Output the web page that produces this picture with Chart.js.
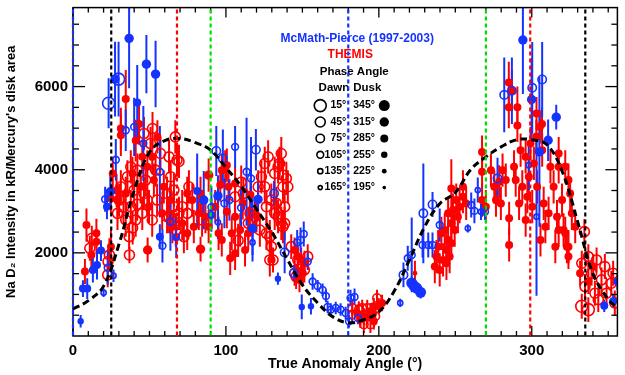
<!DOCTYPE html>
<html>
<head>
<meta charset="utf-8">
<script src="https://cdn.jsdelivr.net/npm/chart.js@4/dist/chart.umd.min.js"></script>
<style>
  html, body { margin: 0; padding: 0; background: #fff; }
</style>
</head>
<body>
<canvas id="chart" width="625" height="375"></canvas>
<script>
const modelAngle = [0,10,20,30,40,50,60,70,80,90,100,110,120,130,140,150,160,170,180,190,200,210,220,230,240,250,260,270,280,290,300,310,320,330,340,350,356];
const modelIntensity = [650,850,1200,2200,3500,4420,4700,4750,4650,4470,4050,3600,3050,2500,1850,1230,795,460,320,390,580,1075,1830,2630,3190,3450,4000,4310,4550,4720,4720,4600,3950,2750,1500,880,680];

// reference angles (vertical dashed lines)
const blueMarks = [0, 180];
const blackMarks = [25, 335];
const redMarks = [68, 299];
const greenMarks = [90, 270];

// phase angle bins for the legend
const dawnPhases = [15, 45, 75, 105, 135, 165];
const duskPhases = [345, 315, 285, 255, 225, 195];

// [true anomaly, intensity kR, error, phase angle]
const mcmathDusk = [
  [5,355,150,255],[6.5,1140,200,285],[9.3,1140,250,285],[13,1590,300,285],[15.7,1710,350,285],
  [18.3,2055,250,285],[22.2,3110,300,285],[24.4,3470,400,315],[27.5,6180,900,315],[36.7,7160,1200,315],
  [48,6540,700,315],[54,6300,800,315],[42,5620,900,285],[56.8,2390,300,285],[67.5,2375,500,285],
  [81.2,3490,900,285],[85.5,3270,700,315],[94.8,3370,500,315],[90.5,2910,400,285],[121,3285,500,315],
  [117.4,2590,800,315],[134,1380,150,255],[149.6,700,300,255],[155.6,715,200,255],
  [221.5,1275,150,345],[223,1200,150,345],[224.7,1155,150,345],[227.3,1050,150,345],
  [294.2,7120,1300,315],[299.9,5690,1000,315],[316,5265,300,315],[310.7,4710,500,315],[305,4430,1800,315],
  [347.4,730,150,285],[353.2,835,150,285],[356,1310,200,285]
];
const mcmathDawn = [
  [20,1040,100,135],[22.7,1640,400,105],[26.5,1450,150,135],[21,3290,300,105],[28,4240,500,105],
  [23.3,5600,600,15],[29.8,6180,900,15],[34.5,4950,500,105],[40,5030,700,105],[46,4630,900,105],
  [56.8,3950,1100,105],[58.5,2170,400,105],[63.7,2750,700,105],[93.7,4450,600,75],[98,4270,700,75],
  [106,4550,500,105],[119.6,4480,500,75],[113.5,3950,1300,105],[116.4,3790,1000,105],[99,3190,600,105],
  [102.3,3270,500,105],[90.5,3100,500,105],[94.8,2735,400,135],[109.9,3085,500,105],[117.4,2250,300,135],
  [131.5,3430,300,75],[138.4,2010,500,75],[144.4,1510,200,75],[146.6,2250,300,105],[148.8,2310,300,105],
  [150.9,2455,300,105],[153.5,1790,200,105],[156.7,1310,200,105],[160,1200,150,105],[163.2,1110,150,105],
  [165.4,960,150,105],[166.5,700,150,105],[168.6,635,150,105],[171.8,675,150,105],[175,635,150,105],
  [178.3,555,150,105],[180.5,355,150,105],[181.5,915,200,105],[184.1,940,200,105],[186.3,435,150,105],
  [214,795,100,135],[216.1,1470,300,75],[218.9,1870,300,105],[221.5,1950,900,105],[228.6,2190,300,105],
  [232.3,2190,300,105],[235.1,2190,300,105],[229.1,2950,1200,75],[235.1,3165,300,75],[239.8,2670,400,105],
  [258.2,2590,100,135],[260.4,3150,300,105],[262.5,3010,300,105],[264.7,3510,300,135],[266.8,2990,200,135],
  [269.4,2990,200,105],[277.6,3790,500,75],[282,5800,900,75],[287,5900,800,75],[300.3,5970,1100,75],
  [306.8,6170,900,75],[298,4110,600,135],[303.1,2870,1900,135]
];
const themisDusk = [
  [7.8,1550,300,285],[8.8,2670,400,285],[15.3,2470,350,285],[15.3,2270,300,285],[12,1950,300,285],
  [24.8,2150,400,285],[26,3910,400,285],[24.8,3310,350,285],[28.5,3500,400,285],
  [34.5,5700,700,285],[31.3,4990,500,285],[31.3,4830,500,285],[43.2,5100,500,285],[41,4700,500,285],
  [45.3,4310,400,285],[48.6,4070,400,285],[51.8,4310,400,285],[38.9,3910,400,285],[52.9,3750,400,285],
  [44.2,3590,400,285],[34.5,3430,400,285],[29.1,3270,400,285],[59.4,3590,400,285],[63.7,3270,400,285],
  [58.3,2950,400,285],[49.7,3110,400,285],[48.8,2070,300,315],[55.2,4790,400,285],[65,2630,400,285],
  [71.4,2710,400,285],[74.7,3430,400,285],[83.4,2090,300,315],[88.7,3870,400,315],[97.3,3990,400,285],
  [100.6,4110,400,285],[96.3,3630,400,285],[101.7,3590,400,285],[106,3670,400,285],[93,3110,400,285],
  [100.6,2990,400,285],[106,2870,400,285],[95.2,2470,400,285],[103.8,2470,400,285],[109.3,2550,400,285],
  [114.6,2470,400,285],[97.3,2310,400,285],[102.8,1870,400,285],[106,1990,400,285],[112.5,2070,400,285],
  [82.3,2950,400,285],[86.6,2870,400,285],[78,3270,400,285],[83.4,3430,400,285],[79,2630,400,285],
  [74.7,2470,400,285],[88.7,2630,400,285],[99.5,4070,400,285],[111,3200,400,285],[116,3400,400,285],
  [120,2900,400,285],[144.9,2070,300,285],[147,1910,300,285],[149.2,1830,300,285],[150.3,1510,300,285],
  [151.4,1750,300,285],[148.1,1350,300,285],
  [185.9,555,200,285],[192.4,475,200,285],[196.7,715,200,285],[190.2,475,200,285],[194.5,595,200,285],
  [199.9,715,200,285],[196.7,355,200,285],[202.1,795,200,285],[188,395,200,285],
  [223.6,1510,300,225],[247.4,3550,700,285],[255,3590,400,285],[250.6,3270,400,285],[252.8,3110,400,285],
  [248.5,3030,400,285],[255,3350,400,285],[245.3,2950,400,285],[257.1,3190,400,285],[251.7,2870,400,285],
  [247.4,2710,400,285],[249.6,2550,400,285],[243.1,2550,400,285],[245.3,2310,400,285],[240.9,2470,400,285],
  [238.8,2150,400,285],[244.2,2070,400,285],[247.4,2230,400,285],[237.7,1910,400,285],[242,1830,400,285],
  [246.3,1910,400,285],[236.6,1670,400,285],[239.8,1590,400,285],[244.2,1750,400,285],[267.5,4425,400,285],
  [267.5,3950,400,285],[267.5,3270,400,285],[270,3110,400,285],
  [278.7,3710,400,285],[279.8,3190,400,285],[285.2,2830,400,285],[285.2,2190,400,285],[296,2790,400,285],
  [285,6100,500,285],[287,5900,500,285],[285,5500,500,285],[290.6,5500,500,285],[290.6,5065,400,285],
  [288.4,4070,400,285],[289.5,3750,400,285],[293.8,3590,400,285],[296,4310,400,285],[298.1,3830,400,285],
  [301.4,4150,400,285],[303.5,3590,400,285],[307.8,3190,400,285],[311,2950,400,285],[314.3,3590,400,285],
  [317.6,4070,400,285],[319.8,3270,400,285],[321.9,2470,400,285],[324,2150,400,285],[317.6,2550,400,285],
  [315.4,2150,400,285],[308.9,2630,400,285],[305.7,2310,400,285],[326.2,2950,400,285],[300.3,3110,400,285],
  [297.1,3350,400,285],[291.7,3190,400,285],[292.7,4470,400,285],[299.2,4630,400,285],[283,3750,400,285],
  [280.9,3990,400,285],[275.5,3590,400,285],[273.3,3990,400,285],[276.6,3270,400,285],[306.8,4470,400,285],
  [312.2,4070,400,285],[305.3,5030,400,285],[303.1,5350,400,285],[317.6,4390,400,285],[321.9,4070,400,285],
  [324,3750,400,285],[325.1,3430,400,285],[316.5,2870,400,285],[320.8,2550,400,285],[323,2150,400,285],
  [328.4,2630,400,285],[324,1910,300,285],[306.7,5100,400,285],[303,4800,400,285],
  [331.6,1510,300,285],[337,1310,300,285],[340.2,1670,300,285]
];
const themisDawn = [
  [12.3,2350,300,45],[11,2110,300,45],[23.8,1950,400,45],[22.7,1470,300,45],[22.9,1790,300,45],
  [36.9,1950,200,45],[36.7,2390,300,45],[37.8,4070,400,45],[35.6,3830,400,45],[42.1,3990,400,45],
  [47.5,3750,400,45],[54,3990,400,45],[46.4,3430,400,45],[40,3510,400,45],[31.3,3590,400,45],
  [29.1,2950,400,45],[34.5,2790,400,45],[30.2,3270,400,45],[41,2790,400,45],[48.6,3270,400,45],
  [55,3270,400,45],[61.5,3430,400,45],[65.9,3110,400,45],[61.5,2870,400,45],[51.8,2790,400,45],
  [45.3,2950,400,45],[57.2,4390,400,45],[50.7,4630,400,45],[46.4,4870,400,45],[66.9,4790,400,45],
  [68,4230,400,45],[37.8,3110,400,45],[42,3170,400,45],[52,4990,400,45],[69.3,4200,400,45],
  [33,3100,400,45],[39,2600,400,45],[62.8,4310,400,45],[63.9,3830,400,45],[69.3,2950,400,45],
  [62.8,2870,400,45],[67.2,2550,400,45],[74.7,2950,400,45],[75.8,3590,400,45],[72.5,2390,400,45],
  [66,3510,400,45],[71.4,3110,400,45],[84.4,2790,400,45],
  [106,3350,400,45],[111.4,3430,400,45],[121.1,3590,400,45],[123.2,3830,400,45],[127.6,4310,400,45],
  [114.6,2710,400,45],[119,2870,400,45],[125.4,4150,400,45],[125.4,3590,400,45],[126.5,3110,400,45],
  [126.5,2470,400,45],[129.7,2150,400,45],[128.7,1830,400,45],[122.2,2550,400,45],[115.7,2950,400,45],
  [131.9,3910,400,45],[133,3190,400,45],[135.1,4150,400,45],[136.2,4390,400,45],[134.1,4070,400,45],
  [137.3,3870,400,45],[139.5,3790,400,45],[129.7,3270,400,45],[137.3,3590,400,45],[138.4,3110,400,45],
  [134.1,2870,400,45],[130.8,1830,300,45],[128.7,2390,400,45],[137.3,2630,400,45],[138.4,2710,400,45],
  [140.5,3590,400,45],[131.9,2950,400,45],[136.2,2710,400,45],[142.7,2150,300,45],[147,1830,300,45],
  [151.3,1590,300,45],[144.9,1510,300,45],[153.5,1910,300,45],[145.9,1430,300,45],[110,3700,400,45],
  [108,2300,400,45],
  [182.6,675,200,75],[189.1,675,200,75],[197.7,475,200,75],[182.6,515,200,75],[186.9,635,200,75],
  [192.4,675,200,75],[195.6,555,200,75],[198.8,915,200,75],[194.5,275,200,75],[190.2,275,200,75],
  [334.4,2510,300,45],[332.7,1750,300,45],[337,1910,300,45],[342.4,1830,300,45],[347.8,1670,300,45],
  [339.1,1510,300,45],[345.6,1350,300,45],[352,1270,300,45],[334.8,1190,300,45],[341.3,1030,300,45],
  [348.9,1030,300,45],[332.7,715,300,15],[337,635,300,15],[343.5,875,300,45],[354.3,795,300,45],
  [353.2,1510,300,45]
];

const RED = '#ff0000';
const BLUE = '#1433ff';
const GREEN = '#00e000';
const FONT = '"Liberation Sans", Arial, sans-serif';

// symbol size per phase angle bin
const openRadius = {15: 6, 45: 5, 75: 4.2, 105: 3.4, 135: 2.6, 165: 2};
const filledRadius = {345: 5.5, 315: 4.7, 285: 4, 255: 3.2, 225: 2.4, 195: 1.8};

function toPoints(rows) {
  return rows.map(r => ({x: r[0], y: r[1], err: r[2], phase: r[3]}));
}

function obsSet(label, rows, color, filled, order) {
  return {
    label: label,
    data: toPoints(rows),
    order: order,
    errColor: color,
    pointStyle: 'circle',
    pointRadius: c => filled ? filledRadius[c.raw.phase] : openRadius[c.raw.phase],
    pointBackgroundColor: filled ? color : 'rgba(0,0,0,0)',
    pointBorderColor: color,
    pointBorderWidth: filled ? 0 : 1.6
  };
}

const errorBars = {
  id: 'errorBars',
  beforeDatasetsDraw(chart) {
    const {ctx, chartArea: a, scales: {x, y}} = chart;
    ctx.save();
    ctx.beginPath();
    ctx.rect(a.left, a.top, a.right - a.left, a.bottom - a.top);
    ctx.clip();
    ctx.lineWidth = 2;
    // red first, then blue
    chart.data.datasets.slice().sort((p, q) => q.order - p.order).forEach(ds => {
      if (!ds.errColor) return;
      ctx.strokeStyle = ds.errColor;
      ds.data.forEach(p => {
        const px = x.getPixelForValue(p.x);
        ctx.beginPath();
        ctx.moveTo(px, y.getPixelForValue(p.y - p.err));
        ctx.lineTo(px, y.getPixelForValue(p.y + p.err));
        ctx.stroke();
      });
    });
    ctx.restore();
  }
};

const frame = {
  id: 'frame',
  afterDatasetsDraw(chart) {
    const {ctx, chartArea: a, scales: {x, y}} = chart;
    const seg = (x1, y1, x2, y2) => { ctx.beginPath(); ctx.moveTo(x1, y1); ctx.lineTo(x2, y2); ctx.stroke(); };
    ctx.save();
    ctx.strokeStyle = '#000';
    ctx.lineWidth = 1.5;
    ctx.strokeRect(a.left, a.top, a.right - a.left, a.bottom - a.top);
    ctx.lineWidth = 1.3;
    for (let v = 0; v <= x.max; v += 10) {
      const px = x.getPixelForValue(v);
      const len = v % 100 === 0 ? 10 : 5;
      seg(px, a.bottom, px, a.bottom - len);
      seg(px, a.top, px, a.top + len);
    }
    for (let v = 500; v <= y.max; v += 500) {
      const py = y.getPixelForValue(v);
      const len = v % 2000 === 0 ? 12 : 6;
      seg(a.left, py, a.left + len, py);
      seg(a.right, py, a.right - len, py);
    }

    // legend text
    const lx = x.getPixelForValue(180);
    const t = a.top;
    ctx.textBaseline = 'middle';
    ctx.font = 'bold 12px ' + FONT;
    ctx.textAlign = 'center';
    ctx.fillStyle = BLUE;
    ctx.fillText('McMath-Pierce (1997-2003)', lx + 9, t + 31);
    ctx.fillStyle = RED;
    ctx.fillText('THEMIS', lx + 2, t + 47);
    ctx.fillStyle = '#000';
    ctx.font = 'bold 11.5px ' + FONT;
    ctx.fillText('Phase Angle', lx + 6, t + 64);
    ctx.textAlign = 'right';
    ctx.fillText('Dawn', lx + 1, t + 80);
    ctx.textAlign = 'left';
    ctx.fillText('Dusk', lx + 5, t + 80);
    ctx.font = 'bold 10.5px ' + FONT;
    dawnPhases.forEach((ph, i) => {
      const ry = t + 98 + i * 16.4;
      ctx.textAlign = 'right';
      ctx.fillText(ph + '°', lx - 2, ry);
      ctx.textAlign = 'left';
      ctx.fillText(duskPhases[i] + '°', lx + 5, ry);
      ctx.lineWidth = 1.6;
      ctx.beginPath();
      ctx.arc(lx - 28, ry, openRadius[ph], 0, Math.PI * 2);
      ctx.stroke();
      ctx.beginPath();
      ctx.arc(lx + 36, ry, filledRadius[duskPhases[i]], 0, Math.PI * 2);
      ctx.fill();
    });

    // reference angle lines
    ctx.beginPath();
    ctx.rect(a.left - 2, a.top, a.right - a.left + 4, a.bottom - a.top);
    ctx.clip();
    ctx.lineWidth = 2.2;
    ctx.setLineDash([4, 3]);
    [[blueMarks, BLUE], [blackMarks, '#000'], [redMarks, RED], [greenMarks, GREEN]].forEach(([marks, col]) => {
      ctx.strokeStyle = col;
      marks.forEach(m => {
        const px = x.getPixelForValue(m);
        seg(px, a.top + 2, px, a.bottom);
      });
    });
    ctx.restore();
  }
};

new Chart(document.getElementById('chart'), {
  type: 'scatter',
  data: {
    datasets: [
      {
        label: 'model',
        data: modelAngle.map((a, i) => ({x: a, y: modelIntensity[i]})),
        showLine: true,
        tension: 0.4,
        borderColor: '#000',
        borderWidth: 3,
        borderDash: [7, 4],
        pointRadius: 0,
        order: 0
      },
      obsSet('McMath-Pierce dusk', mcmathDusk, BLUE, true, 1),
      obsSet('McMath-Pierce dawn', mcmathDawn, BLUE, false, 2),
      obsSet('THEMIS dusk', themisDusk, RED, true, 3),
      obsSet('THEMIS dawn', themisDawn, RED, false, 4)
    ]
  },
  options: {
    responsive: false,
    animation: false,
    devicePixelRatio: 1,
    layout: {padding: {top: 6, right: 2, left: 0, bottom: 0}},
    plugins: {legend: {display: false}, tooltip: {enabled: false}},
    scales: {
      x: {
        type: 'linear',
        min: 0,
        max: 356,
        grid: {display: false, drawTicks: false},
        border: {display: false},
        afterBuildTicks: s => { s.ticks = [0, 100, 200, 300].map(v => ({value: v})); },
        afterFit: s => { s.height = 39; s.paddingLeft = 0; s.paddingRight = 0; },
        ticks: {color: '#000', font: {family: FONT, size: 15, weight: 'bold'}, padding: 6, maxRotation: 0,
          callback: v => String(v)},
        title: {display: true, text: 'True Anomaly Angle (°)', color: '#000',
          font: {family: FONT, size: 14, weight: 'bold'}, padding: {top: 0, bottom: 2}}
      },
      y: {
        type: 'linear',
        min: 0,
        max: 7900,
        grid: {display: false, drawTicks: false},
        border: {display: false},
        afterBuildTicks: s => { s.ticks = [2000, 4000, 6000].map(v => ({value: v})); },
        afterFit: s => { s.width = 73; s.paddingTop = 0; s.paddingBottom = 0; },
        ticks: {color: '#000', font: {family: FONT, size: 15, weight: 'bold'}, padding: 5,
          callback: v => String(v)},
        title: {display: true, text: "Na D\u2082 Intensity in kR/Mercury's disk area", color: '#000',
          font: {family: FONT, size: 13, weight: 'bold'}, padding: {top: 4, bottom: 0}}
      }
    }
  },
  plugins: [errorBars, frame]
});
</script>
</body>
</html>
